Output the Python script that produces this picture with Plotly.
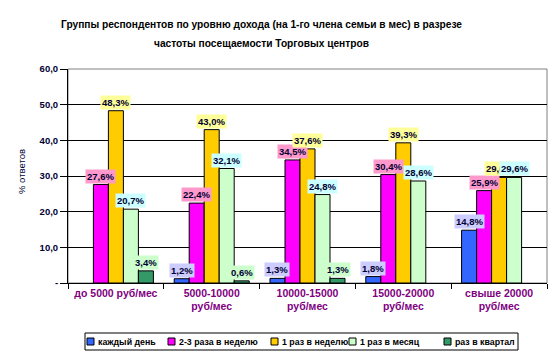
import plotly.graph_objects as go

categories = ["до 5000 руб/мес", "5000-10000<br>руб/мес", "10000-15000<br>руб/мес",
              "15000-20000<br>руб/мес", "свыше 20000<br>руб/мес"]
series_names = ["каждый день", "2-3 раза в неделю", "1 раз в неделю", "1 раз в месяц", "раз в квартал"]
every_day = [None, 1.2, 1.3, 1.8, 14.8]
two_three_week = [27.6, 22.4, 34.5, 30.4, 25.9]
once_week = [48.3, 43.0, 37.6, 39.3, 29.6]
once_month = [20.7, 32.1, 24.8, 28.6, 29.6]
once_quarter = [3.4, 0.6, 1.3, None, None]
series_values = [every_day, two_three_week, once_week, once_month, once_quarter]

bar_colors = ["#3366FF", "#FF00FF", "#FFCC00", "#CCFFCC", "#339966"]
label_bg = ["#CCCCFF", "#FF99CC", "#FFFF99", "#CCFFFF", "#CCFFCC"]
y_ticks = [0, 10, 20, 30, 40, 50, 60]
y_ticktext = ["-", "10,0", "20,0", "30,0", "40,0", "50,0", "60,0"]
title_lines = ["Группы респондентов по уровню дохода (на 1-го члена семьи в мес) в разрезе",
               "частоты посещаемости Торговых центров"]
y_title = "% ответов"

# layout, in window pixels (the page body adds an 8px margin)
OFF = 8
WIN_W, WIN_H = 559, 359
plot_left, plot_right, plot_top, plot_bottom = 68, 547, 69, 283
bargap = 0.217
legend_box = (85, 518, 333, 350)          # x0, x1, y0, y1
legend_item_x = [87, 168, 271, 349, 444]  # left of each swatch
swatch = 7
font_family = "Liberation Sans, Arial, sans-serif"
navy = "#000033"

W, H = WIN_W - OFF, WIN_H - OFF
ml, mr = plot_left - OFF, WIN_W - plot_right
mt, mb = plot_top - OFF, WIN_H - plot_bottom
plot_w = plot_right - plot_left
plot_h = plot_bottom - plot_top


def px2x(px):
    return (px - plot_left) / plot_w


def py2y(py):
    return (plot_bottom - py) / plot_h


fig = go.Figure()
for name, vals, col in zip(series_names, series_values, bar_colors):
    fig.add_trace(go.Bar(
        name=name, x=categories, y=vals,
        marker=dict(color=col, line=dict(color="black", width=1)),
        showlegend=False,
    ))

cat_w = plot_w / len(categories)
bar_w = cat_w * (1 - bargap) / len(series_names)

annotations = []
for i, vals in enumerate(series_values):
    for cat, v in zip(categories, vals):
        if v is None:
            continue
        annotations.append(dict(
            x=cat, y=v, xref="x", yref="y",
            xshift=(i - (len(series_names) - 1) / 2) * bar_w,
            yshift=1,
            text=(f"{v:.1f}%").replace(".", ","),
            showarrow=False, yanchor="bottom", xanchor="center",
            bgcolor=label_bg[i], borderpad=1,
            font=dict(family=font_family, size=9.5, color=navy, weight="bold"),
        ))

for k, line in enumerate(title_lines):
    annotations.append(dict(
        x=px2x(261), y=py2y(25 + 18 * k), xref="paper", yref="paper",
        text=line, showarrow=False, xanchor="center", yanchor="middle",
        font=dict(family=font_family, size=10.2, color="black", weight="bold"),
    ))

annotations.append(dict(
    x=px2x(21), y=py2y(172), xref="paper", yref="paper", textangle=-90,
    text=y_title, showarrow=False, xanchor="center", yanchor="middle",
    font=dict(family=font_family, size=9.5, color=navy),
))

shapes = [dict(type="rect", xref="paper", yref="paper", x0=0, x1=1, y0=0, y1=1,
               line=dict(color="#808080", width=1), layer="below")]

# manual legend
lx0, lx1, ly0, ly1 = legend_box
shapes.append(dict(type="rect", xref="paper", yref="paper",
                   x0=px2x(lx0), x1=px2x(lx1), y0=py2y(ly1), y1=py2y(ly0),
                   line=dict(color="black", width=1), fillcolor="white"))
ly_mid = (ly0 + ly1) / 2
for name, col, sx in zip(series_names, bar_colors, legend_item_x):
    shapes.append(dict(type="rect", xref="paper", yref="paper",
                       x0=px2x(sx), x1=px2x(sx + swatch),
                       y0=py2y(ly_mid + swatch / 2), y1=py2y(ly_mid - swatch / 2),
                       line=dict(color="black", width=1), fillcolor=col))
    annotations.append(dict(
        x=px2x(sx + swatch + 2), y=py2y(ly_mid), xref="paper", yref="paper",
        text=name, showarrow=False, xanchor="left", yanchor="middle",
        font=dict(family=font_family, size=8.8, color="black", weight="bold"),
    ))

fig.update_layout(
    width=W, height=H,
    margin=dict(l=ml, r=mr, t=mt, b=mb, autoexpand=False),
    paper_bgcolor="white", plot_bgcolor="white",
    barmode="group", bargap=bargap, bargroupgap=0,
    font=dict(family=font_family, size=10, color=navy),
    annotations=annotations,
    shapes=shapes,
    showlegend=False,
)

fig.update_yaxes(
    range=[0, 60], tickvals=y_ticks, ticktext=y_ticktext,
    showgrid=True, gridcolor="black", gridwidth=1,
    showline=True, linecolor="black", linewidth=1,
    ticks="outside", ticklen=7, tickcolor="black",
    tickfont=dict(family=font_family, size=9.5, color=navy, weight="bold"),
    zeroline=False, automargin=False,
)
fig.update_xaxes(
    type="category", showline=True, linecolor="black", linewidth=1,
    ticks="outside", ticklen=5, tickcolor="black", tickson="boundaries",
    tickfont=dict(family=font_family, size=10.5, color="#800080", weight="bold"),
    showgrid=False, automargin=False,
)

fig.write_html("out.html")
